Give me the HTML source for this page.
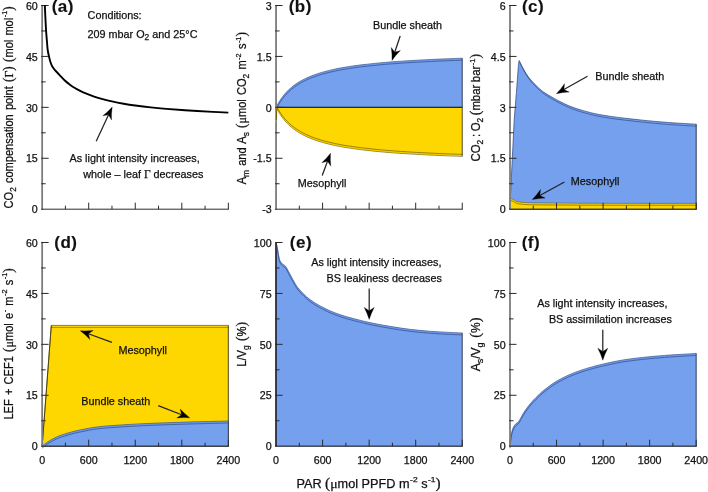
<!DOCTYPE html>
<html><head><meta charset="utf-8"><title>Figure</title>
<style>
html,body{margin:0;padding:0;background:#fff;}
svg{display:block}
text{font-family:"Liberation Sans",sans-serif;fill:#111;stroke:#111;stroke-width:0.25px}
.t{font-size:10.8px}
.k{font-size:10.67px}
.pl{font-size:17px;font-weight:bold;fill:#111;letter-spacing:0.5px;stroke-width:0.15px}
.al{font-size:12px}
.yl{word-spacing:1.2px}
.sub{font-size:8.5px}
.sub2{font-size:9px}
.sup2{font-size:8px}
.sym{font-family:"Liberation Serif",serif;font-size:11.5px}
.sym2{font-family:"Liberation Serif",serif;font-size:13px}
.par{font-size:14.5px;font-family:"Liberation Serif",serif}
</style></head><body>
<svg width="708" height="492" viewBox="0 0 708 492">
<rect width="708" height="492" fill="#fff"/>
<path d="M42.15 4.9 V209.79999999999998" fill="none" stroke="#7c7c7c" stroke-width="1.8"/><path d="M41.199999999999996 209.2 H228.95" fill="none" stroke="#2a2a2a" stroke-width="1.0"/><path d="M41.199999999999996 183.74 h4.45 M41.199999999999996 158.27 h7.45 M41.199999999999996 132.81 h4.45 M41.199999999999996 107.35 h7.45 M41.199999999999996 81.89 h4.45 M41.199999999999996 56.43 h7.45 M41.199999999999996 30.96 h4.45 M41.199999999999996 5.50 h7.45 M65.42 209.2 v-3.5 M88.70 209.2 v-6.5 M111.97 209.2 v-3.5 M135.25 209.2 v-6.5 M158.53 209.2 v-3.5 M181.80 209.2 v-6.5 M205.07 209.2 v-3.5 M228.35 209.2 v-6.5 " fill="none" stroke="#2a2a2a" stroke-width="1.0"/><text x="37.75" y="213.40" text-anchor="end" class="k">0</text><text x="37.75" y="162.47" text-anchor="end" class="k">15</text><text x="37.75" y="111.55" text-anchor="end" class="k">30</text><text x="37.75" y="60.63" text-anchor="end" class="k">45</text><text x="37.75" y="9.70" text-anchor="end" class="k">60</text>
<path d="M44.80 5.00 C44.92 7.50 45.28 15.67 45.50 20.00 C45.72 24.33 45.85 27.33 46.10 31.00 C46.35 34.67 46.73 38.83 47.00 42.00 C47.27 45.17 47.38 47.65 47.70 50.00 C48.02 52.35 48.43 54.07 48.90 56.10 C49.37 58.13 49.88 60.37 50.50 62.20 C51.12 64.03 51.72 65.63 52.60 67.10 C53.48 68.57 54.59 69.62 55.80 71.00 C57.01 72.38 58.34 73.78 59.84 75.35 C61.34 76.93 63.18 78.94 64.80 80.45 C66.43 81.96 68.00 83.20 69.61 84.41 C71.23 85.63 72.74 86.65 74.50 87.73 C76.26 88.81 78.19 89.89 80.17 90.89 C82.14 91.90 84.05 92.79 86.37 93.74 C88.70 94.70 91.42 95.73 94.13 96.64 C96.85 97.55 99.69 98.39 102.66 99.20 C105.64 100.00 108.48 100.70 111.97 101.44 C115.47 102.19 119.73 103.01 123.61 103.69 C127.49 104.36 130.72 104.86 135.25 105.48 C139.78 106.09 145.59 106.81 150.77 107.37 C155.94 107.93 161.11 108.41 166.28 108.86 C171.46 109.31 176.63 109.70 181.80 110.07 C186.97 110.43 192.14 110.76 197.32 111.06 C202.49 111.37 207.66 111.64 212.83 111.90 C218.01 112.15 225.76 112.49 228.35 112.61" fill="none" stroke="#000" stroke-width="1.9" stroke-linejoin="round"/>
<path d="M96.20 141.30 L108.56 114.79" stroke="#222" stroke-width="1.25" fill="none"/><path d="M112.20 107.00 Q111.24 113.83 111.48 119.90 L108.56 114.79 L102.78 115.85 Q107.58 112.13 112.20 107.00 Z" fill="#000" stroke="#000" stroke-width="0.3" stroke-linejoin="round"/>
<text x="51.7" y="11.7" class="pl">(a)</text>
<text x="87.6" y="18.6" class="t" dy="0.5">Conditions:</text>
<text x="87.6" y="37.3" class="t" dy="0.5">209 mbar O<tspan class="sub" dy="2">2</tspan><tspan dy="-2"> and 25°C</tspan></text>
<text x="69.5" y="161.7" class="t" dy="0.5">As light intensity increases,</text>
<text x="83.3" y="177.5" class="t" dy="0.5">whole – leaf <tspan class="sym">Γ</tspan> decreases</text>
<text transform="translate(12.8 107.35) rotate(-90)" text-anchor="middle" textLength="202.1" lengthAdjust="spacingAndGlyphs" class="al yl">CO<tspan class="sub2" dy="3">2</tspan><tspan dy="-3"> compensation point </tspan><tspan class="par">(</tspan><tspan class="sym2">Γ</tspan><tspan class="par">)</tspan> <tspan class="par">(</tspan>mol mol<tspan class="sup2" dy="-5.5" dx="0.5">-1</tspan><tspan class="par" dy="5.5">)</tspan></text>
<path d="M276.05 107.30 C276.24 107.67 276.83 108.82 277.21 109.53 C277.60 110.25 277.92 110.83 278.38 111.60 C278.83 112.36 279.35 113.23 279.93 114.12 C280.51 115.01 281.22 116.05 281.87 116.95 C282.52 117.84 282.97 118.46 283.81 119.47 C284.65 120.48 285.88 121.90 286.91 122.99 C287.95 124.07 288.85 124.96 290.01 125.99 C291.18 127.02 292.34 128.03 293.89 129.17 C295.45 130.31 297.39 131.66 299.32 132.82 C301.26 133.99 303.20 135.05 305.53 136.15 C307.86 137.26 310.45 138.38 313.29 139.43 C316.13 140.49 319.11 141.48 322.60 142.47 C326.09 143.46 330.36 144.50 334.24 145.35 C338.12 146.19 341.35 146.80 345.88 147.54 C350.40 148.28 356.22 149.11 361.39 149.77 C366.56 150.42 371.74 150.96 376.91 151.46 C382.08 151.96 386.61 152.35 392.43 152.79 C398.24 153.23 405.36 153.71 411.82 154.10 C418.29 154.48 425.40 154.84 431.22 155.13 C437.04 155.41 441.56 155.60 446.73 155.81 C451.91 156.02 459.66 156.29 462.25 156.39 L462.25 107.30 L276.05 107.30 Z" fill="#ffd700" stroke="#5e4f00" stroke-width="0.6" stroke-linejoin="round"/><path d="M276.05 106.30 C276.24 106.67 276.83 107.82 277.21 108.53 C277.60 109.25 277.92 109.83 278.38 110.60 C278.83 111.36 279.35 112.23 279.93 113.12 C280.51 114.01 281.22 115.05 281.87 115.95 C282.52 116.84 282.97 117.46 283.81 118.47 C284.65 119.48 285.88 120.90 286.91 121.99 C287.95 123.07 288.85 123.96 290.01 124.99 C291.18 126.02 292.34 127.03 293.89 128.17 C295.45 129.31 297.39 130.66 299.32 131.82 C301.26 132.99 303.20 134.05 305.53 135.15 C307.86 136.26 310.45 137.38 313.29 138.43 C316.13 139.49 319.11 140.48 322.60 141.47 C326.09 142.46 330.36 143.50 334.24 144.35 C338.12 145.19 341.35 145.80 345.88 146.54 C350.40 147.28 356.22 148.11 361.39 148.77 C366.56 149.42 371.74 149.96 376.91 150.46 C382.08 150.96 386.61 151.35 392.43 151.79 C398.24 152.23 405.36 152.71 411.82 153.10 C418.29 153.48 425.40 153.84 431.22 154.13 C437.04 154.41 441.56 154.60 446.73 154.81 C451.91 155.02 459.66 155.29 462.25 155.39" fill="none" stroke="#f0c800" stroke-width="1.30" opacity="0.45"/><path d="M276.05 105.30 C276.24 105.67 276.83 106.82 277.21 107.53 C277.60 108.25 277.92 108.83 278.38 109.60 C278.83 110.36 279.35 111.23 279.93 112.12 C280.51 113.01 281.22 114.05 281.87 114.95 C282.52 115.84 282.97 116.46 283.81 117.47 C284.65 118.48 285.88 119.90 286.91 120.99 C287.95 122.07 288.85 122.96 290.01 123.99 C291.18 125.02 292.34 126.03 293.89 127.17 C295.45 128.31 297.39 129.66 299.32 130.82 C301.26 131.99 303.20 133.05 305.53 134.15 C307.86 135.26 310.45 136.38 313.29 137.43 C316.13 138.49 319.11 139.48 322.60 140.47 C326.09 141.46 330.36 142.50 334.24 143.35 C338.12 144.19 341.35 144.80 345.88 145.54 C350.40 146.28 356.22 147.11 361.39 147.77 C366.56 148.42 371.74 148.96 376.91 149.46 C382.08 149.96 386.61 150.35 392.43 150.79 C398.24 151.23 405.36 151.71 411.82 152.10 C418.29 152.48 425.40 152.84 431.22 153.13 C437.04 153.41 441.56 153.60 446.73 153.81 C451.91 154.02 459.66 154.29 462.25 154.39" fill="none" stroke="#5e4f00" stroke-width="0.65" opacity="0.95"/><path d="M462.25 156.39 L462.25 107.30" fill="none" stroke="#3a3a3a" stroke-width="0.8" opacity="0.7"/>
<path d="M276.05 107.30 C276.24 106.93 276.83 105.78 277.21 105.07 C277.60 104.35 277.92 103.77 278.38 103.00 C278.83 102.24 279.35 101.37 279.93 100.48 C280.51 99.59 281.22 98.55 281.87 97.65 C282.52 96.76 282.97 96.14 283.81 95.13 C284.65 94.12 285.88 92.70 286.91 91.61 C287.95 90.53 288.85 89.64 290.01 88.61 C291.18 87.58 292.34 86.57 293.89 85.43 C295.45 84.29 297.39 82.94 299.32 81.78 C301.26 80.61 303.20 79.55 305.53 78.45 C307.86 77.34 310.45 76.22 313.29 75.17 C316.13 74.11 319.11 73.12 322.60 72.13 C326.09 71.14 330.36 70.10 334.24 69.25 C338.12 68.41 341.35 67.80 345.88 67.06 C350.40 66.32 356.22 65.49 361.39 64.83 C366.56 64.18 371.74 63.64 376.91 63.14 C382.08 62.64 386.61 62.25 392.43 61.81 C398.24 61.37 405.36 60.89 411.82 60.50 C418.29 60.12 425.40 59.76 431.22 59.47 C437.04 59.19 441.56 59.00 446.73 58.79 C451.91 58.58 459.66 58.31 462.25 58.21 L462.25 107.30 L276.05 107.30 Z" fill="#74a0ee" stroke="#27407a" stroke-width="0.6" stroke-linejoin="round"/><path d="M276.05 108.30 C276.24 107.93 276.83 106.78 277.21 106.07 C277.60 105.35 277.92 104.77 278.38 104.00 C278.83 103.24 279.35 102.37 279.93 101.48 C280.51 100.59 281.22 99.55 281.87 98.65 C282.52 97.76 282.97 97.14 283.81 96.13 C284.65 95.12 285.88 93.70 286.91 92.61 C287.95 91.53 288.85 90.64 290.01 89.61 C291.18 88.58 292.34 87.57 293.89 86.43 C295.45 85.29 297.39 83.94 299.32 82.78 C301.26 81.61 303.20 80.55 305.53 79.45 C307.86 78.34 310.45 77.22 313.29 76.17 C316.13 75.11 319.11 74.12 322.60 73.13 C326.09 72.14 330.36 71.10 334.24 70.25 C338.12 69.41 341.35 68.80 345.88 68.06 C350.40 67.32 356.22 66.49 361.39 65.83 C366.56 65.18 371.74 64.64 376.91 64.14 C382.08 63.64 386.61 63.25 392.43 62.81 C398.24 62.37 405.36 61.89 411.82 61.50 C418.29 61.12 425.40 60.76 431.22 60.47 C437.04 60.19 441.56 60.00 446.73 59.79 C451.91 59.58 459.66 59.31 462.25 59.21" fill="none" stroke="#6390e3" stroke-width="1.30" opacity="0.45"/><path d="M276.05 109.30 C276.24 108.93 276.83 107.78 277.21 107.07 C277.60 106.35 277.92 105.77 278.38 105.00 C278.83 104.24 279.35 103.37 279.93 102.48 C280.51 101.59 281.22 100.55 281.87 99.65 C282.52 98.76 282.97 98.14 283.81 97.13 C284.65 96.12 285.88 94.70 286.91 93.61 C287.95 92.53 288.85 91.64 290.01 90.61 C291.18 89.58 292.34 88.57 293.89 87.43 C295.45 86.29 297.39 84.94 299.32 83.78 C301.26 82.61 303.20 81.55 305.53 80.45 C307.86 79.34 310.45 78.22 313.29 77.17 C316.13 76.11 319.11 75.12 322.60 74.13 C326.09 73.14 330.36 72.10 334.24 71.25 C338.12 70.41 341.35 69.80 345.88 69.06 C350.40 68.32 356.22 67.49 361.39 66.83 C366.56 66.18 371.74 65.64 376.91 65.14 C382.08 64.64 386.61 64.25 392.43 63.81 C398.24 63.37 405.36 62.89 411.82 62.50 C418.29 62.12 425.40 61.76 431.22 61.47 C437.04 61.19 441.56 61.00 446.73 60.79 C451.91 60.58 459.66 60.31 462.25 60.21" fill="none" stroke="#27407a" stroke-width="0.65" opacity="0.95"/><path d="M462.25 58.21 L462.25 107.30" fill="none" stroke="#3a3a3a" stroke-width="0.8" opacity="0.7"/>
<path d="M276.05 107.3 H462.25" stroke="#1a1a1a" stroke-width="1" fill="none"/>
<path d="M276.05 4.9 V209.79999999999998" fill="none" stroke="#7c7c7c" stroke-width="1.8"/><path d="M275.1 209.2 H462.85" fill="none" stroke="#2a2a2a" stroke-width="1.0"/><path d="M275.1 183.74 h4.45 M275.1 158.27 h7.45 M275.1 132.81 h4.45 M275.1 107.35 h7.45 M275.1 81.89 h4.45 M275.1 56.43 h7.45 M275.1 30.96 h4.45 M275.1 5.50 h7.45 M299.32 209.2 v-3.5 M322.60 209.2 v-6.5 M345.88 209.2 v-3.5 M369.15 209.2 v-6.5 M392.43 209.2 v-3.5 M415.70 209.2 v-6.5 M438.98 209.2 v-3.5 M462.25 209.2 v-6.5 " fill="none" stroke="#2a2a2a" stroke-width="1.0"/><text x="271.65" y="213.40" text-anchor="end" class="k">-3</text><text x="271.65" y="162.47" text-anchor="end" class="k">-1.5</text><text x="271.65" y="111.55" text-anchor="end" class="k">0</text><text x="271.65" y="60.63" text-anchor="end" class="k">1.5</text><text x="271.65" y="9.70" text-anchor="end" class="k">3</text>
<path d="M276.55 107.8 L275.65000000000003 121.8" stroke="#e6c200" stroke-width="0.9" fill="none"/>
<path d="M276.95 107.8 L276.15000000000003 120.3" stroke="#2e2600" stroke-width="0.6" fill="none"/>
<path d="M400.20 36.00 L394.74 52.25" stroke="#222" stroke-width="1.25" fill="none"/><path d="M392.00 60.40 Q392.19 53.50 391.27 47.50 L394.74 52.25 L400.37 50.55 Q396.01 54.79 392.00 60.40 Z" fill="#000" stroke="#000" stroke-width="0.3" stroke-linejoin="round"/>
<path d="M322.20 175.50 L327.50 161.26" stroke="#222" stroke-width="1.25" fill="none"/><path d="M330.50 153.20 Q330.09 160.09 330.81 166.12 L327.50 161.26 L321.82 162.77 Q326.31 158.68 330.50 153.20 Z" fill="#000" stroke="#000" stroke-width="0.3" stroke-linejoin="round"/>
<text x="288.7" y="11.7" class="pl">(b)</text>
<text x="373" y="28.5" class="t" dy="0.5">Bundle sheath</text>
<text x="297.8" y="186.1" class="t" dy="0.5">Mesophyll</text>
<text transform="translate(246.2 108.2) rotate(-90)" text-anchor="middle" textLength="152.3" lengthAdjust="spacingAndGlyphs" class="al yl">A<tspan class="sub2" dy="3">m</tspan><tspan dy="-3"> and A</tspan><tspan class="sub2" dy="3">s</tspan><tspan dy="-3"> </tspan><tspan class="par">(</tspan><tspan class="sym2">μ</tspan>mol CO<tspan class="sub2" dy="3">2</tspan><tspan dy="-3"> m</tspan><tspan class="sup2" dy="-5.5" dx="0.5">-2</tspan><tspan dy="5.5"> s</tspan><tspan class="sup2" dy="-5.5" dx="0.5">-1</tspan><tspan class="par" dy="5.5">)</tspan></text>
<path d="M510.00 205.00 L514.20 120.00 L516.40 92.70 L518.50 64.20 L519.20 60.50 C519.80 61.72 521.27 65.05 522.80 67.80 C524.33 70.55 526.27 74.13 528.40 77.00 C530.53 79.87 533.67 82.97 535.60 85.00 C537.53 87.03 538.35 87.82 540.00 89.20 C541.65 90.58 543.15 91.77 545.50 93.30 C547.85 94.83 551.52 96.93 554.10 98.40 C556.68 99.87 558.65 100.92 561.00 102.10 C563.35 103.28 565.87 104.50 568.20 105.50 C570.53 106.50 572.63 107.28 575.00 108.10 C577.37 108.92 580.07 109.72 582.40 110.40 C584.73 111.08 586.65 111.60 589.00 112.20 C591.35 112.80 592.90 113.30 596.50 114.00 C600.10 114.70 605.90 115.70 610.60 116.40 C615.30 117.10 619.80 117.62 624.70 118.20 C629.60 118.78 634.95 119.37 640.00 119.90 C645.05 120.43 650.23 120.97 655.00 121.40 C659.77 121.83 664.10 122.17 668.60 122.50 C673.10 122.83 677.40 123.12 682.00 123.40 C686.60 123.68 693.83 124.07 696.20 124.20 L696.2 209.2 L510.0 209.2 Z" fill="#74a0ee" stroke="#27407a" stroke-width="0.7" stroke-linejoin="miter"/>
<path d="M519.80 62.50 C520.40 63.72 521.87 67.05 523.40 69.80 C524.93 72.55 526.87 76.13 529.00 79.00 C531.13 81.87 534.27 84.97 536.20 87.00 C538.13 89.03 538.95 89.82 540.60 91.20 C542.25 92.58 543.75 93.77 546.10 95.30 C548.45 96.83 552.12 98.93 554.70 100.40 C557.28 101.87 559.25 102.92 561.60 104.10 C563.95 105.28 566.47 106.50 568.80 107.50 C571.13 108.50 573.23 109.28 575.60 110.10 C577.97 110.92 580.67 111.72 583.00 112.40 C585.33 113.08 587.25 113.60 589.60 114.20 C591.95 114.80 593.50 115.30 597.10 116.00 C600.70 116.70 606.50 117.70 611.20 118.40 C615.90 119.10 620.40 119.62 625.30 120.20 C630.20 120.78 635.55 121.37 640.60 121.90 C645.65 122.43 650.83 122.97 655.60 123.40 C660.37 123.83 664.70 124.17 669.20 124.50 C673.70 124.83 678.00 125.12 682.60 125.40 C687.20 125.68 694.43 126.07 696.80 126.20" fill="none" stroke="#27407a" stroke-width="0.65" opacity="0.95"/>
<path d="M696.2 124.2 V209.2" fill="none" stroke="#3a3a3a" stroke-width="0.8" opacity="0.7"/>
<path d="M510.00 198.60 C510.50 198.72 512.20 198.98 513.00 199.30 C513.80 199.62 514.23 200.15 514.80 200.50 C515.37 200.85 515.70 201.15 516.40 201.40 C517.10 201.65 518.00 201.83 519.00 202.00 C520.00 202.17 520.18 202.25 522.40 202.40 C524.62 202.55 526.70 202.78 532.30 202.90 C537.90 203.02 546.88 203.03 556.00 203.10 C565.12 203.17 573.00 203.25 587.00 203.30 C601.00 203.35 621.80 203.38 640.00 203.40 C658.20 203.42 686.83 203.40 696.20 203.40 L696.20 209.20 L510.00 209.20 Z" fill="#ffd700" stroke="#5e4f00" stroke-width="0.6" stroke-linejoin="round"/><path d="M510.00 199.55 C510.50 199.67 512.20 199.93 513.00 200.25 C513.80 200.57 514.23 201.10 514.80 201.45 C515.37 201.80 515.70 202.10 516.40 202.35 C517.10 202.60 518.00 202.78 519.00 202.95 C520.00 203.12 520.18 203.20 522.40 203.35 C524.62 203.50 526.70 203.73 532.30 203.85 C537.90 203.97 546.88 203.98 556.00 204.05 C565.12 204.12 573.00 204.20 587.00 204.25 C601.00 204.30 621.80 204.33 640.00 204.35 C658.20 204.37 686.83 204.35 696.20 204.35" fill="none" stroke="#f0c800" stroke-width="1.20" opacity="0.45"/><path d="M510.00 200.50 C510.50 200.62 512.20 200.88 513.00 201.20 C513.80 201.52 514.23 202.05 514.80 202.40 C515.37 202.75 515.70 203.05 516.40 203.30 C517.10 203.55 518.00 203.73 519.00 203.90 C520.00 204.07 520.18 204.15 522.40 204.30 C524.62 204.45 526.70 204.68 532.30 204.80 C537.90 204.92 546.88 204.93 556.00 205.00 C565.12 205.07 573.00 205.15 587.00 205.20 C601.00 205.25 621.80 205.28 640.00 205.30 C658.20 205.32 686.83 205.30 696.20 205.30" fill="none" stroke="#5e4f00" stroke-width="0.65" opacity="0.95"/><path d="M696.20 203.40 L696.20 209.20" fill="none" stroke="#3a3a3a" stroke-width="0.8" opacity="0.7"/>
<path d="M510.0 4.9 V209.79999999999998" fill="none" stroke="#7c7c7c" stroke-width="1.8"/><path d="M509.05 209.2 H696.8000000000001" fill="none" stroke="#2a2a2a" stroke-width="1.0"/><path d="M509.05 183.74 h4.45 M509.05 158.27 h7.45 M509.05 132.81 h4.45 M509.05 107.35 h7.45 M509.05 81.89 h4.45 M509.05 56.43 h7.45 M509.05 30.96 h4.45 M509.05 5.50 h7.45 M533.27 209.2 v-3.5 M556.55 209.2 v-6.5 M579.83 209.2 v-3.5 M603.10 209.2 v-6.5 M626.38 209.2 v-3.5 M649.65 209.2 v-6.5 M672.92 209.2 v-3.5 M696.20 209.2 v-6.5 " fill="none" stroke="#2a2a2a" stroke-width="1.0"/><text x="505.60" y="213.40" text-anchor="end" class="k">0</text><text x="505.60" y="162.47" text-anchor="end" class="k">1.5</text><text x="505.60" y="111.55" text-anchor="end" class="k">3</text><text x="505.60" y="60.63" text-anchor="end" class="k">4.5</text><text x="505.60" y="9.70" text-anchor="end" class="k">6</text>
<path d="M587.50 76.30 L563.91 89.50" stroke="#222" stroke-width="1.25" fill="none"/><path d="M556.40 93.70 Q561.18 88.72 564.53 83.65 L563.91 89.50 L569.22 92.03 Q563.14 92.24 556.40 93.70 Z" fill="#000" stroke="#000" stroke-width="0.3" stroke-linejoin="round"/>
<path d="M564.40 182.00 L539.84 195.47" stroke="#222" stroke-width="1.25" fill="none"/><path d="M532.30 199.60 Q537.12 194.66 540.51 189.62 L539.84 195.47 L545.13 198.04 Q539.06 198.19 532.30 199.60 Z" fill="#000" stroke="#000" stroke-width="0.3" stroke-linejoin="round"/>
<text x="521.9" y="11.7" class="pl">(c)</text>
<text x="595.3" y="79.9" class="t" dy="0.5">Bundle sheath</text>
<text x="570.8" y="184.6" class="t" dy="0.5">Mesophyll</text>
<text transform="translate(480.4 107.7) rotate(-90)" text-anchor="middle" textLength="107.6" lengthAdjust="spacingAndGlyphs" class="al yl" style="word-spacing:-0.6px">CO<tspan class="sub2" dy="3">2</tspan><tspan dy="-3"> : O</tspan><tspan class="sub2" dy="3">2</tspan><tspan dy="-3"> </tspan><tspan class="par">(</tspan>mbar bar<tspan class="sup2" dy="-5.5" dx="0.5">-1</tspan><tspan class="par" dy="5.5">)</tspan></text>
<path d="M42.15 446.20 L51.30 325.40 L228.35 325.4 L228.35 446.2 Z" fill="#ffd700" stroke="#5e4f00" stroke-width="0.7"/>
<path d="M51.2 327.4 H228.35" fill="none" stroke="#5e4f00" stroke-width="0.6" opacity=".9"/>
<path d="M42.15 446.2 L51.3 325.4" fill="none" stroke="#3d3400" stroke-width="0.8"/>
<path d="M228.35 325.4 V446.2" fill="none" stroke="#3a3a3a" stroke-width="0.8" opacity="0.7"/>
<path d="M42.15 446.20 C42.71 445.73 44.11 444.40 45.50 443.40 C46.89 442.40 48.67 441.27 50.50 440.20 C52.33 439.13 54.23 438.00 56.50 437.00 C58.77 436.00 61.52 435.05 64.10 434.20 C66.68 433.35 69.15 432.63 72.00 431.90 C74.85 431.17 76.82 430.65 81.20 429.80 C85.58 428.95 91.18 427.63 98.30 426.80 C105.42 425.97 115.28 425.37 123.90 424.80 C132.52 424.23 140.65 423.82 150.00 423.40 C159.35 422.98 170.83 422.60 180.00 422.30 C189.17 422.00 196.94 421.82 205.00 421.60 C213.06 421.38 224.46 421.10 228.35 421.00 L228.35 446.20 L42.15 446.20 Z" fill="#74a0ee" stroke="#27407a" stroke-width="0.6" stroke-linejoin="round"/><path d="M42.15 447.20 C42.71 446.73 44.11 445.40 45.50 444.40 C46.89 443.40 48.67 442.27 50.50 441.20 C52.33 440.13 54.23 439.00 56.50 438.00 C58.77 437.00 61.52 436.05 64.10 435.20 C66.68 434.35 69.15 433.63 72.00 432.90 C74.85 432.17 76.82 431.65 81.20 430.80 C85.58 429.95 91.18 428.63 98.30 427.80 C105.42 426.97 115.28 426.37 123.90 425.80 C132.52 425.23 140.65 424.82 150.00 424.40 C159.35 423.98 170.83 423.60 180.00 423.30 C189.17 423.00 196.94 422.82 205.00 422.60 C213.06 422.38 224.46 422.10 228.35 422.00" fill="none" stroke="#6390e3" stroke-width="1.30" opacity="0.45"/><path d="M42.15 448.20 C42.71 447.73 44.11 446.40 45.50 445.40 C46.89 444.40 48.67 443.27 50.50 442.20 C52.33 441.13 54.23 440.00 56.50 439.00 C58.77 438.00 61.52 437.05 64.10 436.20 C66.68 435.35 69.15 434.63 72.00 433.90 C74.85 433.17 76.82 432.65 81.20 431.80 C85.58 430.95 91.18 429.63 98.30 428.80 C105.42 427.97 115.28 427.37 123.90 426.80 C132.52 426.23 140.65 425.82 150.00 425.40 C159.35 424.98 170.83 424.60 180.00 424.30 C189.17 424.00 196.94 423.82 205.00 423.60 C213.06 423.38 224.46 423.10 228.35 423.00" fill="none" stroke="#27407a" stroke-width="0.65" opacity="0.95"/><path d="M228.35 421.00 L228.35 446.20" fill="none" stroke="#3a3a3a" stroke-width="0.8" opacity="0.7"/>
<path d="M42.15 241.9 V446.8" fill="none" stroke="#7c7c7c" stroke-width="1.8"/><path d="M41.199999999999996 446.2 H228.95" fill="none" stroke="#2a2a2a" stroke-width="1.0"/><path d="M41.199999999999996 420.74 h4.45 M41.199999999999996 395.27 h7.45 M41.199999999999996 369.81 h4.45 M41.199999999999996 344.35 h7.45 M41.199999999999996 318.89 h4.45 M41.199999999999996 293.43 h7.45 M41.199999999999996 267.96 h4.45 M41.199999999999996 242.50 h7.45 M65.42 446.2 v-3.5 M88.70 446.2 v-6.5 M111.97 446.2 v-3.5 M135.25 446.2 v-6.5 M158.53 446.2 v-3.5 M181.80 446.2 v-6.5 M205.07 446.2 v-3.5 M228.35 446.2 v-6.5 " fill="none" stroke="#2a2a2a" stroke-width="1.0"/><text x="37.75" y="450.40" text-anchor="end" class="k">0</text><text x="37.75" y="399.47" text-anchor="end" class="k">15</text><text x="37.75" y="348.55" text-anchor="end" class="k">30</text><text x="37.75" y="297.62" text-anchor="end" class="k">45</text><text x="37.75" y="246.70" text-anchor="end" class="k">60</text><text x="42.15" y="463.80" text-anchor="middle" class="k">0</text><text x="88.70" y="463.80" text-anchor="middle" class="k">600</text><text x="135.25" y="463.80" text-anchor="middle" class="k">1200</text><text x="181.80" y="463.80" text-anchor="middle" class="k">1800</text><text x="228.35" y="463.80" text-anchor="middle" class="k">2400</text>
<path d="M111.90 342.40 L88.37 333.76" stroke="#222" stroke-width="1.25" fill="none"/><path d="M80.30 330.80 Q87.19 331.18 93.22 330.43 L88.37 333.76 L89.91 339.44 Q85.80 334.97 80.30 330.80 Z" fill="#000" stroke="#000" stroke-width="0.3" stroke-linejoin="round"/>
<path d="M158.20 405.70 L181.67 414.72" stroke="#222" stroke-width="1.25" fill="none"/><path d="M189.70 417.80 Q182.82 417.32 176.78 417.98 L181.67 414.72 L180.22 409.02 Q184.26 413.55 189.70 417.80 Z" fill="#000" stroke="#000" stroke-width="0.3" stroke-linejoin="round"/>
<text x="54.3" y="247.6" class="pl">(d)</text>
<text x="118.4" y="353.3" class="t" dy="0.5">Mesophyll</text>
<text x="81.2" y="404.5" class="t" dy="0.5">Bundle sheath</text>
<text transform="translate(12.8 343.9) rotate(-90)" text-anchor="middle" textLength="151.4" lengthAdjust="spacingAndGlyphs" class="al yl">LEF + CEF1 <tspan class="par">(</tspan><tspan class="sym2">μ</tspan>mol e<tspan class="sup2" dy="-5.5" dx="0.5">-</tspan><tspan dy="5.5"> m</tspan><tspan class="sup2" dy="-5.5" dx="0.5">-2</tspan><tspan dy="5.5"> s</tspan><tspan class="sup2" dy="-5.5" dx="0.5">-1</tspan><tspan class="par" dy="5.5">)</tspan></text>
<path d="M276.05 242.50 C276.21 243.08 276.66 244.38 277.00 246.00 C277.34 247.62 277.72 250.08 278.10 252.20 C278.48 254.32 278.93 257.20 279.30 258.70 C279.67 260.20 279.95 260.52 280.30 261.20 C280.65 261.88 280.88 262.23 281.40 262.80 C281.92 263.37 282.73 264.07 283.40 264.60 C284.07 265.13 284.80 265.33 285.40 266.00 C286.00 266.67 286.45 267.65 287.00 268.60 C287.55 269.55 288.12 270.60 288.70 271.70 C289.28 272.80 289.82 273.92 290.50 275.20 C291.18 276.48 291.97 277.90 292.80 279.40 C293.63 280.90 294.62 282.77 295.50 284.20 C296.38 285.63 297.02 286.65 298.10 288.00 C299.18 289.35 300.63 290.88 302.00 292.30 C303.37 293.72 304.97 295.30 306.30 296.50 C307.63 297.70 308.65 298.48 310.00 299.50 C311.35 300.52 312.98 301.68 314.40 302.60 C315.82 303.52 317.15 304.25 318.50 305.00 C319.85 305.75 320.58 306.13 322.50 307.10 C324.42 308.07 327.08 309.55 330.00 310.80 C332.92 312.05 336.68 313.47 340.00 314.60 C343.32 315.73 344.93 316.27 349.90 317.60 C354.87 318.93 363.15 321.15 369.80 322.60 C376.45 324.05 383.15 325.18 389.80 326.30 C396.45 327.42 403.07 328.48 409.70 329.30 C416.33 330.12 422.97 330.68 429.60 331.20 C436.23 331.72 444.06 332.12 449.50 332.40 C454.94 332.68 460.12 332.82 462.25 332.90 L462.25 446.20 L276.05 446.20 Z" fill="#74a0ee" stroke="#27407a" stroke-width="0.6" stroke-linejoin="round"/><path d="M276.05 243.50 C276.21 244.08 276.66 245.38 277.00 247.00 C277.34 248.62 277.72 251.08 278.10 253.20 C278.48 255.32 278.93 258.20 279.30 259.70 C279.67 261.20 279.95 261.52 280.30 262.20 C280.65 262.88 280.88 263.23 281.40 263.80 C281.92 264.37 282.73 265.07 283.40 265.60 C284.07 266.13 284.80 266.33 285.40 267.00 C286.00 267.67 286.45 268.65 287.00 269.60 C287.55 270.55 288.12 271.60 288.70 272.70 C289.28 273.80 289.82 274.92 290.50 276.20 C291.18 277.48 291.97 278.90 292.80 280.40 C293.63 281.90 294.62 283.77 295.50 285.20 C296.38 286.63 297.02 287.65 298.10 289.00 C299.18 290.35 300.63 291.88 302.00 293.30 C303.37 294.72 304.97 296.30 306.30 297.50 C307.63 298.70 308.65 299.48 310.00 300.50 C311.35 301.52 312.98 302.68 314.40 303.60 C315.82 304.52 317.15 305.25 318.50 306.00 C319.85 306.75 320.58 307.13 322.50 308.10 C324.42 309.07 327.08 310.55 330.00 311.80 C332.92 313.05 336.68 314.47 340.00 315.60 C343.32 316.73 344.93 317.27 349.90 318.60 C354.87 319.93 363.15 322.15 369.80 323.60 C376.45 325.05 383.15 326.18 389.80 327.30 C396.45 328.42 403.07 329.48 409.70 330.30 C416.33 331.12 422.97 331.68 429.60 332.20 C436.23 332.72 444.06 333.12 449.50 333.40 C454.94 333.68 460.12 333.82 462.25 333.90" fill="none" stroke="#6390e3" stroke-width="1.30" opacity="0.45"/><path d="M276.05 244.50 C276.21 245.08 276.66 246.38 277.00 248.00 C277.34 249.62 277.72 252.08 278.10 254.20 C278.48 256.32 278.93 259.20 279.30 260.70 C279.67 262.20 279.95 262.52 280.30 263.20 C280.65 263.88 280.88 264.23 281.40 264.80 C281.92 265.37 282.73 266.07 283.40 266.60 C284.07 267.13 284.80 267.33 285.40 268.00 C286.00 268.67 286.45 269.65 287.00 270.60 C287.55 271.55 288.12 272.60 288.70 273.70 C289.28 274.80 289.82 275.92 290.50 277.20 C291.18 278.48 291.97 279.90 292.80 281.40 C293.63 282.90 294.62 284.77 295.50 286.20 C296.38 287.63 297.02 288.65 298.10 290.00 C299.18 291.35 300.63 292.88 302.00 294.30 C303.37 295.72 304.97 297.30 306.30 298.50 C307.63 299.70 308.65 300.48 310.00 301.50 C311.35 302.52 312.98 303.68 314.40 304.60 C315.82 305.52 317.15 306.25 318.50 307.00 C319.85 307.75 320.58 308.13 322.50 309.10 C324.42 310.07 327.08 311.55 330.00 312.80 C332.92 314.05 336.68 315.47 340.00 316.60 C343.32 317.73 344.93 318.27 349.90 319.60 C354.87 320.93 363.15 323.15 369.80 324.60 C376.45 326.05 383.15 327.18 389.80 328.30 C396.45 329.42 403.07 330.48 409.70 331.30 C416.33 332.12 422.97 332.68 429.60 333.20 C436.23 333.72 444.06 334.12 449.50 334.40 C454.94 334.68 460.12 334.82 462.25 334.90" fill="none" stroke="#27407a" stroke-width="0.65" opacity="0.95"/><path d="M462.25 332.90 L462.25 446.20" fill="none" stroke="#3a3a3a" stroke-width="0.8" opacity="0.7"/>
<path d="M276.05 241.9 V446.8" fill="none" stroke="#7c7c7c" stroke-width="1.8"/><path d="M275.1 446.2 H462.85" fill="none" stroke="#2a2a2a" stroke-width="1.0"/><path d="M276.05 243 V446.2" fill="none" stroke="#20263f" stroke-width="1.5"/><path d="M275.1 420.74 h4.45 M275.1 395.27 h7.45 M275.1 369.81 h4.45 M275.1 344.35 h7.45 M275.1 318.89 h4.45 M275.1 293.43 h7.45 M275.1 267.96 h4.45 M275.1 242.50 h7.45 M299.32 446.2 v-3.5 M322.60 446.2 v-6.5 M345.88 446.2 v-3.5 M369.15 446.2 v-6.5 M392.43 446.2 v-3.5 M415.70 446.2 v-6.5 M438.98 446.2 v-3.5 M462.25 446.2 v-6.5 " fill="none" stroke="#2a2a2a" stroke-width="1.0"/><text x="271.65" y="450.40" text-anchor="end" class="k">0</text><text x="271.65" y="399.47" text-anchor="end" class="k">25</text><text x="271.65" y="348.55" text-anchor="end" class="k">50</text><text x="271.65" y="297.62" text-anchor="end" class="k">75</text><text x="271.65" y="246.70" text-anchor="end" class="k">100</text><text x="276.05" y="463.80" text-anchor="middle" class="k">0</text><text x="322.60" y="463.80" text-anchor="middle" class="k">600</text><text x="369.15" y="463.80" text-anchor="middle" class="k">1200</text><text x="415.70" y="463.80" text-anchor="middle" class="k">1800</text><text x="462.25" y="463.80" text-anchor="middle" class="k">2400</text>
<path d="M369.20 288.50 L369.20 310.80" stroke="#222" stroke-width="1.25" fill="none"/><path d="M369.20 319.40 Q367.10 312.80 364.20 307.40 L369.20 310.80 L374.20 307.40 Q371.30 312.80 369.20 319.40 Z" fill="#000" stroke="#000" stroke-width="0.3" stroke-linejoin="round"/>
<text x="289.8" y="247.6" class="pl">(e)</text>
<text x="311.2" y="265.4" class="t" dy="0.5">As light intensity increases,</text>
<text x="326.6" y="281.6" class="t" dy="0.5">BS leakiness decreases</text>
<text transform="translate(246.2 344.4) rotate(-90)" text-anchor="middle" textLength="44.8" lengthAdjust="spacingAndGlyphs" class="al yl">L/V<tspan class="sub2" dy="3">g</tspan><tspan dy="-3"> </tspan><tspan class="par">(</tspan>%<tspan class="par">)</tspan></text>
<path d="M510.00 446.20 C510.08 445.33 510.30 442.82 510.50 441.00 C510.70 439.18 510.82 437.37 511.20 435.30 C511.58 433.23 512.15 430.38 512.80 428.60 C513.45 426.82 514.43 425.53 515.10 424.60 C515.77 423.67 516.25 423.47 516.80 423.00 C517.35 422.53 517.78 422.57 518.40 421.80 C519.02 421.03 519.75 419.70 520.50 418.40 C521.25 417.10 521.75 415.85 522.90 414.00 C524.05 412.15 525.72 409.53 527.40 407.30 C529.08 405.07 531.13 402.65 533.00 400.60 C534.87 398.55 536.80 396.72 538.60 395.00 C540.40 393.28 540.90 392.55 543.80 390.30 C546.70 388.05 551.93 384.02 556.00 381.50 C560.07 378.98 564.13 377.05 568.20 375.20 C572.27 373.35 576.33 371.82 580.40 370.40 C584.47 368.98 588.95 367.73 592.60 366.70 C596.25 365.67 597.28 365.32 602.30 364.20 C607.32 363.08 615.82 361.15 622.70 360.00 C629.58 358.85 636.63 358.07 643.60 357.30 C650.57 356.53 657.53 355.93 664.50 355.40 C671.47 354.87 680.12 354.43 685.40 354.10 C690.68 353.77 694.40 353.52 696.20 353.40 L696.20 446.20 L510.00 446.20 Z" fill="#74a0ee" stroke="#27407a" stroke-width="0.6" stroke-linejoin="round"/><path d="M510.00 447.20 C510.08 446.33 510.30 443.82 510.50 442.00 C510.70 440.18 510.82 438.37 511.20 436.30 C511.58 434.23 512.15 431.38 512.80 429.60 C513.45 427.82 514.43 426.53 515.10 425.60 C515.77 424.67 516.25 424.47 516.80 424.00 C517.35 423.53 517.78 423.57 518.40 422.80 C519.02 422.03 519.75 420.70 520.50 419.40 C521.25 418.10 521.75 416.85 522.90 415.00 C524.05 413.15 525.72 410.53 527.40 408.30 C529.08 406.07 531.13 403.65 533.00 401.60 C534.87 399.55 536.80 397.72 538.60 396.00 C540.40 394.28 540.90 393.55 543.80 391.30 C546.70 389.05 551.93 385.02 556.00 382.50 C560.07 379.98 564.13 378.05 568.20 376.20 C572.27 374.35 576.33 372.82 580.40 371.40 C584.47 369.98 588.95 368.73 592.60 367.70 C596.25 366.67 597.28 366.32 602.30 365.20 C607.32 364.08 615.82 362.15 622.70 361.00 C629.58 359.85 636.63 359.07 643.60 358.30 C650.57 357.53 657.53 356.93 664.50 356.40 C671.47 355.87 680.12 355.43 685.40 355.10 C690.68 354.77 694.40 354.52 696.20 354.40" fill="none" stroke="#6390e3" stroke-width="1.30" opacity="0.45"/><path d="M510.00 448.20 C510.08 447.33 510.30 444.82 510.50 443.00 C510.70 441.18 510.82 439.37 511.20 437.30 C511.58 435.23 512.15 432.38 512.80 430.60 C513.45 428.82 514.43 427.53 515.10 426.60 C515.77 425.67 516.25 425.47 516.80 425.00 C517.35 424.53 517.78 424.57 518.40 423.80 C519.02 423.03 519.75 421.70 520.50 420.40 C521.25 419.10 521.75 417.85 522.90 416.00 C524.05 414.15 525.72 411.53 527.40 409.30 C529.08 407.07 531.13 404.65 533.00 402.60 C534.87 400.55 536.80 398.72 538.60 397.00 C540.40 395.28 540.90 394.55 543.80 392.30 C546.70 390.05 551.93 386.02 556.00 383.50 C560.07 380.98 564.13 379.05 568.20 377.20 C572.27 375.35 576.33 373.82 580.40 372.40 C584.47 370.98 588.95 369.73 592.60 368.70 C596.25 367.67 597.28 367.32 602.30 366.20 C607.32 365.08 615.82 363.15 622.70 362.00 C629.58 360.85 636.63 360.07 643.60 359.30 C650.57 358.53 657.53 357.93 664.50 357.40 C671.47 356.87 680.12 356.43 685.40 356.10 C690.68 355.77 694.40 355.52 696.20 355.40" fill="none" stroke="#27407a" stroke-width="0.65" opacity="0.95"/><path d="M696.20 353.40 L696.20 446.20" fill="none" stroke="#3a3a3a" stroke-width="0.8" opacity="0.7"/>
<path d="M510.0 241.9 V446.8" fill="none" stroke="#7c7c7c" stroke-width="1.8"/><path d="M509.05 446.2 H696.8000000000001" fill="none" stroke="#2a2a2a" stroke-width="1.0"/><path d="M509.05 420.74 h4.45 M509.05 395.27 h7.45 M509.05 369.81 h4.45 M509.05 344.35 h7.45 M509.05 318.89 h4.45 M509.05 293.43 h7.45 M509.05 267.96 h4.45 M509.05 242.50 h7.45 M533.27 446.2 v-3.5 M556.55 446.2 v-6.5 M579.83 446.2 v-3.5 M603.10 446.2 v-6.5 M626.38 446.2 v-3.5 M649.65 446.2 v-6.5 M672.92 446.2 v-3.5 M696.20 446.2 v-6.5 " fill="none" stroke="#2a2a2a" stroke-width="1.0"/><text x="505.60" y="450.40" text-anchor="end" class="k">0</text><text x="505.60" y="399.47" text-anchor="end" class="k">25</text><text x="505.60" y="348.55" text-anchor="end" class="k">50</text><text x="505.60" y="297.62" text-anchor="end" class="k">75</text><text x="505.60" y="246.70" text-anchor="end" class="k">100</text><text x="510.00" y="463.80" text-anchor="middle" class="k">0</text><text x="556.55" y="463.80" text-anchor="middle" class="k">600</text><text x="603.10" y="463.80" text-anchor="middle" class="k">1200</text><text x="649.65" y="463.80" text-anchor="middle" class="k">1800</text><text x="696.20" y="463.80" text-anchor="middle" class="k">2400</text>
<path d="M602.80 329.70 L602.80 351.60" stroke="#222" stroke-width="1.25" fill="none"/><path d="M602.80 360.20 Q600.70 353.60 597.80 348.20 L602.80 351.60 L607.80 348.20 Q604.90 353.60 602.80 360.20 Z" fill="#000" stroke="#000" stroke-width="0.3" stroke-linejoin="round"/>
<text x="521.7" y="247.6" class="pl">(f)</text>
<text x="537.2" y="306.5" class="t" dy="0.5">As light intensity increases,</text>
<text x="548.9" y="322.8" class="t" dy="0.5">BS assimilation increases</text>
<text transform="translate(480.2 344.4) rotate(-90)" text-anchor="middle" class="al yl">A<tspan class="sub2" dy="3">s</tspan><tspan dy="-3">/V</tspan><tspan class="sub2" dy="3">g</tspan><tspan dy="-3"> </tspan><tspan class="par">(</tspan>%<tspan class="par">)</tspan></text>
<text x="296.4" y="487.9" textLength="144.3" lengthAdjust="spacingAndGlyphs" class="al xl"><tspan>PAR </tspan><tspan class="par">(</tspan><tspan class="sym2">μ</tspan>mol PPFD m<tspan class="sup2" dy="-5.5" dx="0.5">-2</tspan><tspan dy="5.5"> s</tspan><tspan class="sup2" dy="-5.5" dx="0.5">-1</tspan><tspan class="par" dy="5.5">)</tspan></text>
</svg>
</body></html>
